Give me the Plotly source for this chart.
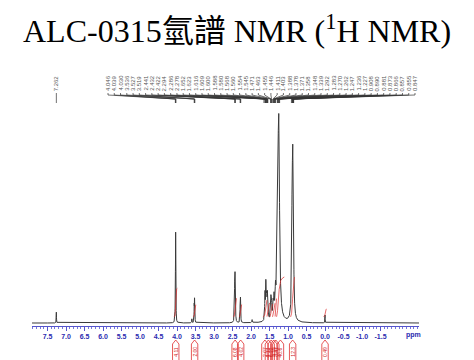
import numpy as np
import plotly.graph_objects as go

# ---------------- data ----------------
title_text = "ALC-0315氫譜 NMR (<sup>1</sup>H NMR)"

# peak list: shift (ppm), height (arb. units), half-width (ppm)
peak_ppm = [7.262, 4.046, 4.038, 4.030, 3.600, 3.536, 3.527, 3.519,
            2.441, 2.432, 2.422, 2.294, 2.286, 2.278, 1.970,
            1.623, 1.600, 1.580, 1.560, 1.545, 1.463, 1.446, 1.403, 1.378,
            1.339, 1.292, 1.270, 1.247, 0.890, 0.873, 0.857, 0.000]
peak_height = [11, 30, 80, 30, 4, 16, 20, 14,
               36, 36, 14, 18, 20, 12, 3,
               26, 34, 30, 20, 16, 20, 14, 14, 18,
               22, 26, 90, 160, 88, 120, 80, 8]
peak_width = [0.004, 0.004, 0.004, 0.004, 0.005, 0.004, 0.004, 0.004,
              0.006, 0.006, 0.006, 0.004, 0.004, 0.004, 0.008,
              0.008, 0.008, 0.008, 0.008, 0.010, 0.010, 0.010, 0.010, 0.010,
              0.012, 0.012, 0.022, 0.022, 0.012, 0.014, 0.012, 0.004]

# peak-pick labels (top of chart)
pick_labels = ["4.046", "4.039", "4.030", "3.536", "3.527", "3.519", "2.441", "2.432",
               "2.422", "2.294", "2.286", "2.278", "1.652", "1.623", "1.616", "1.609",
               "1.600", "1.588", "1.580", "1.568", "1.560", "1.554", "1.545", "1.471",
               "1.463", "1.455", "1.446", "1.411", "1.403", "1.388", "1.378", "1.371",
               "1.358", "1.348", "1.339", "1.292", "1.283", "1.270", "1.262", "1.247",
               "1.236", "1.227", "0.908", "0.890", "0.881", "0.873", "0.866", "0.857",
               "0.855", "0.847"]
solvent_label = "7.262"

# integration regions (ppm start, ppm end, value)
int_from = [4.08, 3.56, 2.47, 2.31, 1.68, 1.57, 1.49, 1.42, 1.35, 1.31, 0.93, 0.04]
int_to = [3.99, 3.49, 2.39, 2.25, 1.57, 1.49, 1.42, 1.35, 1.31, 1.10, 0.82, -0.04]
int_value = ["4.11", "2.00", "6.08", "4.02", "2.07", "4.13", "6.22", "4.15",
             "8.41", "40.6", "12.3", "0.49"]

tick_vals = [7.5, 7.0, 6.5, 6.0, 5.5, 5.0, 4.5, 4.0, 3.5, 3.0, 2.5, 2.0, 1.5, 1.0,
             0.5, 0.0, -0.5, -1.0, -1.5]
tick_text = ["7.5", "7.0", "6.5", "6.0", "5.5", "5.0", "4.5", "4.0", "3.5", "3.0",
             "2.5", "2.0", "1.5", "1.0", "0.5", "0.0", "-0.5", "-1.0", "-1.5"]

# ---------------- build spectrum ----------------
X_MAX, X_MIN = 7.92, -2.54
x = np.arange(X_MIN, X_MAX, 0.0015)
y = np.zeros_like(x)
for c, h, w in zip(peak_ppm, peak_height, peak_width):
    y += h / (1 + ((x - c) / w) ** 2)

W, H = 474, 360
L, R, T, B = 32, 55, 100, 34
PW, PH = W - L - R, H - T - B


def px_x(px):
    return (px - L) / PW


def px_y(py):
    return (H - B - py) / PH


def ppm_x(p):
    return (X_MAX - p) / (X_MAX - X_MIN)


fig = go.Figure()
fig.add_trace(go.Scatter(x=x, y=y, mode="lines",
                         line=dict(color="#3a3a3a", width=1), hoverinfo="skip"))

# integral curves (red) over peaks
for a, b in zip(int_from, int_to):
    m = (x <= a) & (x >= b)
    xs = x[m][::-1]
    ys = y[m][::-1]
    cum = np.cumsum(ys)
    if cum[-1] <= 0:
        continue
    base = 6
    curve = base + cum / cum[-1] * min(40, 6 + ys.max() * 0.25)
    fig.add_trace(go.Scatter(x=xs, y=curve, mode="lines",
                             line=dict(color="rgba(220,40,40,0.7)", width=1),
                             hoverinfo="skip"))

shapes = []
annotations = []

annotations.append(dict(text=title_text, x=px_x(237), xref="paper", xanchor="center",
                        y=px_y(29), yref="paper", yanchor="middle", showarrow=False,
                        font=dict(family="Liberation Serif, Noto Sans CJK TC, serif",
                                  size=32, color="black")))

# peak pick labels and fan lines
n = len(pick_labels)
lx0, lx1 = 108, 415
label_base = 93
for i, lab in enumerate(pick_labels):
    lx = lx0 + (lx1 - lx0) * i / (n - 1)
    pv = float(lab)
    annotations.append(dict(text=lab, x=px_x(lx), xref="paper", xanchor="center",
                            y=px_y(label_base), yref="paper", yanchor="bottom",
                            textangle=-90, showarrow=False,
                            font=dict(family="Arial, Liberation Sans", size=6,
                                      color="#555555")))
    shapes.append(dict(type="path", xref="paper", yref="paper",
                       path=f"M {px_x(lx)},{px_y(label_base)} L {px_x(lx)},{px_y(label_base+2)} "
                            f"L {ppm_x(pv)},{px_y(99)} L {ppm_x(pv)},{px_y(103)}",
                       line=dict(color="#333333", width=0.7)))

# solvent label
sx = ppm_x(float(solvent_label))
annotations.append(dict(text=solvent_label, x=sx, xref="paper", xanchor="center",
                        y=px_y(label_base), yref="paper", yanchor="bottom",
                        textangle=-90, showarrow=False,
                        font=dict(family="Arial, Liberation Sans", size=6, color="#555555")))
shapes.append(dict(type="line", xref="paper", yref="paper", x0=sx, x1=sx,
                   y0=px_y(label_base), y1=px_y(103),
                   line=dict(color="#333333", width=0.7)))

# integration brackets below the axis
for a, b, v in zip(int_from, int_to, int_value):
    cx = ppm_x((a + b) / 2)
    hw = 3.2 / PW
    top, mid, bot = px_y(340), px_y(344), px_y(360)
    shapes.append(dict(type="path", xref="paper", yref="paper",
                       path=f"M {cx},{top} L {cx-hw},{mid} L {cx-hw},{bot} "
                            f"M {cx},{top} L {cx+hw},{mid} L {cx+hw},{bot}",
                       line=dict(color="#e03030", width=0.8)))
    annotations.append(dict(text=v, x=cx, xref="paper", xanchor="center",
                            y=px_y(352), yref="paper", yanchor="middle",
                            textangle=-90, showarrow=False,
                            font=dict(family="Arial, Liberation Sans", size=5,
                                      color="#d02020")))

annotations.append(dict(text="ppm", x=px_x(413), xref="paper", xanchor="center",
                        y=px_y(335), yref="paper", yanchor="middle", showarrow=False,
                        font=dict(family="Arial, Liberation Sans", size=7,
                                  color="#2b2bb0", weight="bold")))

fig.update_layout(
    width=W, height=H,
    margin=dict(l=L, r=R, t=T, b=B, pad=0),
    paper_bgcolor="white", plot_bgcolor="white",
    showlegend=False,
    shapes=shapes, annotations=annotations,
    xaxis=dict(range=[X_MAX, X_MIN], tickvals=tick_vals, ticktext=tick_text,
               showgrid=False, zeroline=False, showline=True, linecolor="#5555cc",
               linewidth=1, ticks="outside", ticklen=4, tickcolor="#5555cc",
               tickfont=dict(family="Arial, Liberation Sans", size=7, color="#2b2bb0",
                             weight="bold"),
               minor=dict(dtick=0.1, ticks="outside", ticklen=2, tickcolor="#7777dd"),
               fixedrange=True),
    yaxis=dict(range=[-3, PH - 3], visible=False, fixedrange=True),
)

fig.write_html("out.html")
